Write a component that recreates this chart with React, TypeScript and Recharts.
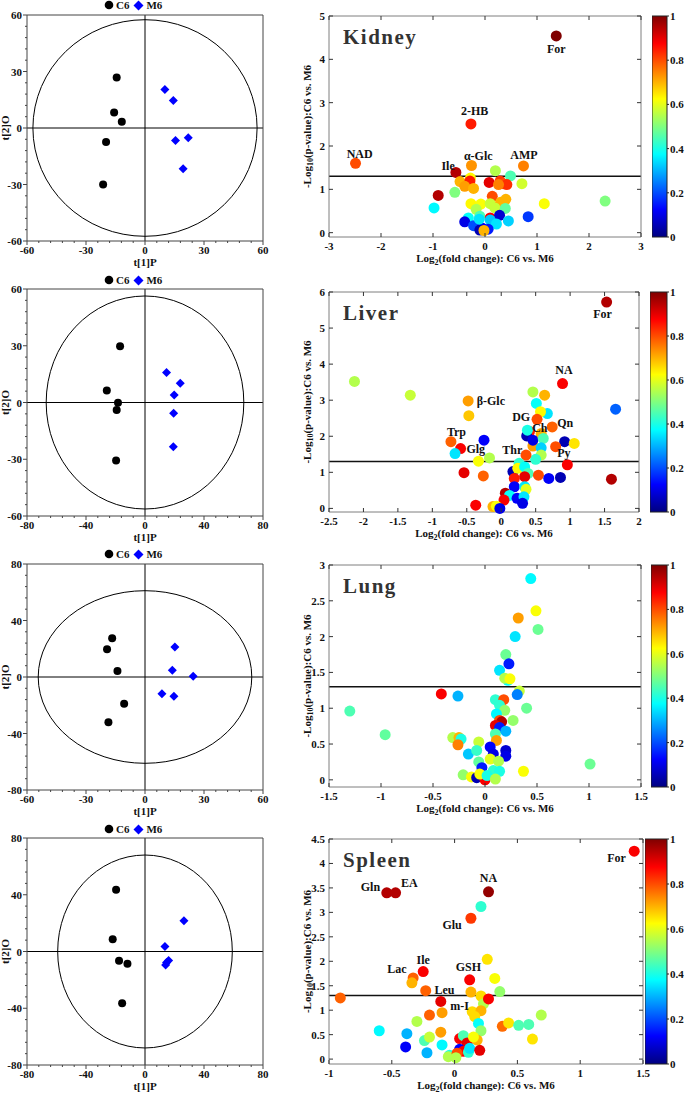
import React from 'react';
import { ScatterChart, Scatter, XAxis, YAxis, ReferenceLine, ReferenceArea } from 'recharts';

const FONT = '"Liberation Serif", "Times New Roman", serif';

// ---------- score plots: [t[1]P, t[2]O] ----------
const kidneyC6 = [[-14.4, 26.8], [-15.7, 8.2], [-11.8, 3.3], [-19.8, -7.4], [-21.3, -30]];
const kidneyM6 = [[10.1, 20.5], [14.4, 14.6], [15.5, -6.6], [22, -5.2], [19.4, -21.7]];
const liverC6 = [[-16.9, 29.8], [-25.9, 6.3], [-18.3, -0.1], [-19.2, -4], [-19.6, -30.7]];
const liverM6 = [[14.6, 15.8], [23.9, 10.2], [19.8, 4], [19.4, -5.7], [19.2, -23.4]];
const lungC6 = [[-16.7, 27.4], [-19.3, 19.6], [-14, 4.2], [-10.6, -18.9], [-18.6, -32.1]];
const lungM6 = [[15.2, 21.2], [13.9, 4.7], [24.5, 0.5], [8.6, -11.8], [14.7, -13.7]];
const spleenC6 = [[-19.6, 43.5], [-21.9, 8.7], [-17.6, -6.6], [-11.9, -8.7], [-15.5, -36.5]];
const spleenM6 = [[26.4, 21.6], [13.5, 3.5], [16, -6.4], [14.6, -7.8], [14, -9.6]];

// Hotelling T2 ellipse half-axes [x, y]
const kidneyEllipse = [57, 57.5];
const liverEllipse = [67, 56.3];
const lungEllipse = [54.3, 61.1];
const spleenEllipse = [59.2, 68];

const ticks60 = [-60, -30, 0, 30, 60];
const ticks80 = [-80, -40, 0, 40, 80];

// ---------- volcano plots: [log2 FC, -log10 p, colour value] ----------
const kidneyPts = [
  [1.37, 4.54, 1.0], [-0.27, 2.51, 0.85], [-2.49, 1.6, 0.8], [-0.56, 1.39, 0.95], [-0.26, 1.55, 0.73],
  [0.74, 1.54, 0.75], [0.2, 1.43, 0.55], [0.49, 1.31, 0.45], [-0.28, 1.26, 0.63], [-0.48, 1.18, 0.7],
  [-0.29, 1.19, 0.85], [0.08, 1.16, 0.9], [0.29, 1.19, 0.82], [0.35, 1.13, 0.8], [0.42, 1.11, 0.83],
  [0.26, 1.11, 0.75], [0.71, 1.13, 0.58], [-0.39, 1.07, 0.72], [-0.22, 1.02, 0.7], [-0.58, 0.93, 0.5],
  [-0.9, 0.86, 0.95], [0.14, 0.84, 0.8], [-0.98, 0.57, 0.37], [-0.27, 0.67, 0.63], [-0.08, 0.66, 0.62],
  [0.1, 0.67, 0.57], [0.3, 0.7, 0.7], [0.4, 0.77, 0.7], [1.14, 0.67, 0.62], [2.31, 0.73, 0.5],
  [-0.17, 0.54, 0.55], [0.19, 0.57, 0.57], [0.39, 0.56, 0.47], [-0.1, 0.38, 0.45], [-0.32, 0.34, 0.38],
  [0.1, 0.34, 0.88], [0.28, 0.4, 0.08], [-0.39, 0.25, 0.1], [-0.22, 0.16, 0.2], [-0.06, 0.11, 0.12],
  [-0.1, 0.06, 0.05], [0.1, 0.29, 0.32], [0.22, 0.2, 0.35], [0.45, 0.27, 0.33], [0.83, 0.37, 0.18],
  [-0.11, 0.31, 0.35], [0.06, 0.08, 0.15], [-0.02, 0.05, 0.7],
];
const liverPts = [
  [1.53, 5.72, 0.95], [0.89, 3.46, 0.88], [-2.13, 3.52, 0.55], [-1.32, 3.14, 0.57], [-0.48, 2.98, 0.72],
  [-0.47, 2.57, 0.68], [1.66, 2.75, 0.22], [0.46, 3.23, 0.55], [0.63, 3.14, 0.7], [0.51, 2.91, 0.38],
  [0.67, 2.63, 0.35], [0.57, 2.68, 0.63], [0.52, 2.47, 0.8], [0.74, 2.26, 0.78], [0.41, 2.13, 0.85],
  [0.37, 2.01, 0.05], [0.38, 2.17, 0.4], [0.58, 2.08, 0.7], [0.46, 1.73, 0.72], [0.46, 1.89, 0.1],
  [0.61, 1.94, 0.45], [0.58, 1.68, 0.33], [0.92, 1.85, 0.05], [1.06, 1.8, 0.65], [0.79, 1.71, 0.8],
  [0.58, 1.48, 0.55], [0.5, 1.36, 0.42], [0.96, 1.21, 0.88], [-0.73, 1.85, 0.78], [-0.59, 1.66, 0.88],
  [-0.67, 1.52, 0.35], [-0.25, 1.89, 0.12], [-0.33, 1.31, 0.62], [-0.17, 1.4, 0.55], [0.36, 1.48, 0.8],
  [-0.54, 0.99, 0.9], [-0.26, 0.9, 0.78], [0.17, 1.02, 0.05], [0.26, 1.25, 0.42], [0.24, 1.11, 0.63],
  [0.34, 1.15, 0.38], [0.39, 0.97, 0.45], [0.34, 0.88, 0.9], [0.54, 0.92, 0.8], [0.69, 0.83, 0.12],
  [0.86, 0.86, 0.05], [1.6, 0.81, 0.95], [0.19, 0.83, 0.85], [0.19, 0.6, 0.12], [0.34, 0.6, 0.35],
  [0.36, 0.53, 0.6], [0.06, 0.42, 0.95], [0.12, 0.36, 0.38], [0.23, 0.28, 0.12], [0.33, 0.32, 0.35],
  [0.31, 0.14, 0.1], [0.04, 0.23, 0.88], [-0.37, 0.09, 0.88], [-0.12, 0.05, 0.7], [-0.07, 0.06, 0.62],
  [-0.02, 0.0, 0.1],
];
const lungPts = [
  [0.44, 2.81, 0.37], [0.49, 2.36, 0.62], [0.32, 2.26, 0.72], [0.51, 2.1, 0.48], [0.29, 2.0, 0.35],
  [0.2, 1.75, 0.48], [0.23, 1.62, 0.15], [0.14, 1.53, 0.35], [0.22, 1.39, 0.38], [0.19, 1.42, 0.55],
  [0.24, 1.41, 0.62], [-0.42, 1.2, 0.88], [-0.26, 1.17, 0.3], [0.33, 1.24, 0.57], [0.31, 1.19, 0.25],
  [0.1, 1.12, 0.42], [0.18, 1.12, 0.8], [0.14, 1.04, 0.42], [0.4, 1.0, 0.48], [0.19, 0.97, 0.52],
  [0.11, 0.92, 0.37], [0.27, 0.83, 0.52], [0.14, 0.83, 0.8], [0.16, 0.81, 0.95], [0.1, 0.76, 0.9],
  [0.14, 0.73, 0.15], [0.2, 0.68, 0.3], [0.1, 0.64, 0.45], [0.11, 0.55, 0.72], [-1.3, 0.96, 0.45],
  [-0.96, 0.63, 0.47], [-0.31, 0.59, 0.55], [-0.25, 0.59, 0.7], [-0.23, 0.57, 0.4], [-0.26, 0.49, 0.75],
  [-0.06, 0.53, 0.57], [-0.16, 0.36, 0.32], [-0.08, 0.41, 0.43], [0.05, 0.46, 0.12], [0.08, 0.36, 0.1],
  [0.2, 0.41, 0.08], [0.2, 0.33, 0.1], [0.05, 0.29, 0.6], [0.13, 0.26, 0.55], [-0.06, 0.25, 0.47],
  [-0.03, 0.17, 0.15], [1.01, 0.22, 0.48], [0.37, 0.12, 0.62], [-0.21, 0.07, 0.52], [-0.13, 0.04, 0.62],
  [-0.08, 0.03, 0.05], [0.0, 0.0, 0.88], [-0.05, 0.08, 0.62], [0.08, 0.13, 0.42], [0.14, 0.12, 0.4],
  [0.02, 0.06, 0.4], [0.1, 0.01, 0.55],
];
const spleenPts = [
  [1.43, 4.25, 0.88], [-0.54, 3.4, 0.95], [-0.47, 3.4, 0.95], [0.27, 3.42, 0.98], [0.21, 3.12, 0.42],
  [0.13, 2.88, 0.82], [0.26, 2.04, 0.65], [-0.25, 1.79, 0.88], [-0.33, 1.66, 0.78], [-0.34, 1.56, 0.7],
  [0.12, 1.62, 0.88], [0.32, 1.65, 0.62], [-0.23, 1.4, 0.78], [0.13, 1.37, 0.7], [0.36, 1.38, 0.52],
  [0.21, 1.29, 0.66], [-0.91, 1.25, 0.78], [-0.11, 1.18, 0.9], [0.23, 1.13, 0.55], [0.27, 1.23, 0.88],
  [0.14, 0.97, 0.66], [0.21, 0.99, 0.7], [0.16, 0.87, 0.66], [-0.1, 0.95, 0.72], [-0.2, 0.9, 0.78],
  [-0.3, 0.77, 0.55], [0.19, 0.73, 0.38], [0.21, 0.58, 0.52], [0.38, 0.67, 0.77], [0.43, 0.74, 0.65],
  [0.51, 0.69, 0.45], [0.59, 0.71, 0.45], [0.69, 0.9, 0.55], [0.62, 0.41, 0.65], [-0.6, 0.58, 0.37],
  [-0.38, 0.52, 0.3], [-0.39, 0.25, 0.12], [-0.22, 0.13, 0.3], [-0.24, 0.38, 0.45], [-0.2, 0.45, 0.57],
  [-0.11, 0.55, 0.72], [-0.1, 0.29, 0.37], [-0.04, 0.08, 0.4], [-0.05, 0.05, 0.55], [0.04, 0.42, 0.88],
  [0.07, 0.48, 0.45], [0.1, 0.33, 0.9], [0.18, 0.39, 0.7], [0.15, 0.45, 0.62], [0.04, 0.2, 0.12],
  [0.07, 0.16, 0.88], [0.11, 0.14, 0.42], [0.12, 0.22, 0.35], [0.2, 0.18, 0.9], [0.02, 0.12, 0.8],
  [0.01, 0.03, 0.55],
];

// metabolite labels: [text, x, y] (text centre, data units)
const kidneyLabels = [['For', 1.37, 4.25], ['2-HB', -0.2, 2.81], ['NAD', -2.41, 1.82], ['Ile', -0.71, 1.55], ['α-Glc', -0.13, 1.78], ['AMP', 0.75, 1.8]];
const liverLabels = [['For', 1.47, 5.38], ['NA', 0.91, 3.83], ['β-Glc', -0.15, 2.98], ['DG', 0.29, 2.54], ['Ch', 0.56, 2.24], ['Qn', 0.93, 2.38], ['Trp', -0.65, 2.12], ['Glg', -0.37, 1.66], ['Thr', 0.16, 1.62], ['Py', 0.91, 1.54]];
const lungLabels: any[] = [];
const spleenLabels = [['For', 1.29, 4.11], ['Gln', -0.67, 3.51], ['EA', -0.36, 3.61], ['NA', 0.27, 3.7], ['Glu', -0.02, 2.74], ['Lac', -0.46, 1.84], ['Ile', -0.25, 2.02], ['GSH', 0.11, 1.88], ['Leu', -0.08, 1.42], ['m-I', 0.04, 1.08]];

const colorTicks = [0, 0.2, 0.4, 0.6, 0.8, 1];
const P_THRESHOLD = 1.301; // -log10(0.05)

const steps = (a: number, b: number, s: number) => {
  const out: number[] = [];
  for (let v = a; v <= b + 1e-9; v += s) out.push(Math.round(v * 1000) / 1000);
  return out;
};

const jet = (v: number) => {
  const f = (t: number) => Math.round(255 * Math.max(0, Math.min(1, 1.5 - Math.abs(4 * v - t))));
  return `rgb(${f(3)},${f(2)},${f(1)})`;
};

// invisible anchor points so that the frame axes get a domain
const corners = (xd: number[], yd: number[]) => [{ x: xd[0], y: yd[0] }, { x: xd[1], y: yd[1] }];
const noShape = () => <g />;

type Side = 'bottom' | 'left' | 'top' | 'right';
function makeTick(side: Side, major: number[], len: number, minorLen: number, inward: boolean, label: boolean, color: string, gap = 4) {
  return (props: any) => {
    const { x, y, payload } = props;
    const v = payload.value;
    const isMajor = major.some((m) => Math.abs(m - v) < 1e-6);
    const L = isMajor ? len : minorLen;
    const s = inward ? -1 : 1;
    let x2 = x, y2 = y;
    if (side === 'bottom') y2 = y + s * L;
    if (side === 'top') y2 = y - s * L;
    if (side === 'left') x2 = x - s * L;
    if (side === 'right') x2 = x + s * L;
    let txt = null;
    if (label && isMajor) {
      const common = { fontFamily: FONT, fontWeight: 700, fontSize: 11, fill: '#111' };
      if (side === 'bottom') txt = <text x={x} y={y + 13} textAnchor="middle" {...common}>{String(v)}</text>;
      if (side === 'left') txt = <text x={x - gap} y={y + 4} textAnchor="end" {...common}>{String(v)}</text>;
      if (side === 'right') txt = <text x={x + gap} y={y + 4} textAnchor="start" {...common}>{String(v)}</text>;
    }
    return (
      <g>
        {L > 0 && <line x1={x} y1={y} x2={x2} y2={y2} stroke={color} strokeWidth={1} />}
        {txt}
      </g>
    );
  };
}

const xLabel = (content: React.ReactNode, dy: number) => (props: any) => {
  const vb = props.viewBox || {};
  return (
    <text x={vb.x + vb.width / 2} y={vb.y + dy} textAnchor="middle" fontFamily={FONT} fontWeight={700} fontSize={11} fill="#111">{content}</text>
  );
};
const yLabel = (content: React.ReactNode, dx: number) => (props: any) => {
  const vb = props.viewBox || {};
  const cx = vb.x + vb.width - dx;
  const cy = vb.y + vb.height / 2;
  return (
    <text x={cx} y={cy} transform={`rotate(-90 ${cx} ${cy})`} textAnchor="middle" dominantBaseline="central" fontFamily={FONT} fontWeight={700} fontSize={11} fill="#111">{content}</text>
  );
};

// ---------- score plot ----------
const SCORE_L = 27;
const SCORE_R = 263;

function ScorePlot({ c6, m6, ellipse, xTicks, yTicks, top, bottom, legendY }: any) {
  const padL = 27, padT = 10, padR = 8, padB = 32;
  const W = SCORE_R - SCORE_L, H = bottom - top;
  const xDom = [xTicks[0], xTicks[xTicks.length - 1]];
  const yDom = [yTicks[0], yTicks[yTicks.length - 1]];
  const xMinor = steps(xDom[0], xDom[1], (xTicks[1] - xTicks[0]) / 5);
  const yMinor = steps(yDom[0], yDom[1], (yTicks[1] - yTicks[0]) / 5);
  const c6d = c6.map(([x, y]: number[]) => ({ x, y }));
  const m6d = m6.map(([x, y]: number[]) => ({ x, y }));
  const frame = '#444';
  return (
    <>
      <div style={{ position: 'absolute', left: 104, top: legendY - 7, display: 'flex', alignItems: 'center', gap: 2, fontFamily: FONT, fontWeight: 700, fontSize: 11, lineHeight: '14px', color: '#111' }}>
        <svg width={10} height={10}><circle cx={5} cy={5} r={4.3} fill="#000" /></svg>
        <span>C6</span>
        <svg width={11} height={11} style={{ marginLeft: 2 }}><polygon points="5.5,0.5 10.5,5.5 5.5,10.5 0.5,5.5" fill="#0000ff" /></svg>
        <span>M6</span>
      </div>
      <div style={{ position: 'absolute', left: SCORE_L - padL, top: top - padT }}>
        <ScatterChart width={W + padL + padR} height={H + padT + padB} margin={{ top: padT - 1, right: padR - 1, bottom: 0, left: 0 }}>
          <XAxis type="number" dataKey="x" domain={xDom} ticks={xMinor} interval={0} height={padB}
            tickSize={0} tickMargin={0} tickLine={false} axisLine={{ stroke: frame }}
            tick={makeTick('bottom', xTicks, 4, 2, false, true, frame)} label={{ content: xLabel('t[1]P', 25) }} />
          <YAxis type="number" dataKey="y" domain={yDom} ticks={yMinor} interval={0} width={padL}
            tickSize={0} tickMargin={0} tickLine={false} axisLine={{ stroke: frame }}
            tick={makeTick('left', yTicks, 4, 2, false, true, frame, 5)} label={{ content: yLabel('t[2]O', 22) }} />
          <XAxis xAxisId="t" orientation="top" type="number" dataKey="x" domain={xDom} height={1} tick={false} tickLine={false} axisLine={{ stroke: frame }} />
          <YAxis yAxisId="r" orientation="right" type="number" dataKey="y" domain={yDom} width={1} tick={false} tickLine={false} axisLine={{ stroke: frame }} />
          <ReferenceLine x={0} stroke="#000" strokeWidth={1} />
          <ReferenceLine y={0} stroke="#000" strokeWidth={1} />
          <ReferenceArea x1={-ellipse[0]} x2={ellipse[0]} y1={-ellipse[1]} y2={ellipse[1]} ifOverflow="visible"
            shape={(p: any) => <ellipse cx={p.x + p.width / 2} cy={p.y + p.height / 2} rx={Math.abs(p.width) / 2} ry={Math.abs(p.height) / 2} fill="none" stroke="#000" strokeWidth={1} />} />
          <Scatter data={c6d} isAnimationActive={false} shape={(p: any) => <circle cx={p.cx} cy={p.cy} r={4} fill="#000" />} />
          <Scatter data={m6d} isAnimationActive={false} shape={(p: any) => <polygon points={`${p.cx},${p.cy - 4.5} ${p.cx + 4.5},${p.cy} ${p.cx},${p.cy + 4.5} ${p.cx - 4.5},${p.cy}`} fill="#0000ff" />} />
          <Scatter xAxisId="t" yAxisId="r" data={corners(xDom, yDom)} isAnimationActive={false} shape={noShape} />
        </ScatterChart>
      </div>
    </>
  );
}

// ---------- volcano plot ----------
const yLabelText = (
  <>
    <tspan>-Log</tspan>
    <tspan fontSize={8} dy={3}>10</tspan>
    <tspan dy={-3}>(p-value):C6 vs. M6</tspan>
  </>
);
const xLabelText = (
  <>
    <tspan>Log</tspan>
    <tspan fontSize={8} dy={3}>2</tspan>
    <tspan dy={-3}>(fold change): C6 vs. M6</tspan>
  </>
);

function Volcano({ title, points, labels, xTicks, yTicks, yMax, plot, cb }: any) {
  const padL = 40, padT = 10, padR = 10, padB = 32;
  const W = plot.r - plot.l, H = plot.b - plot.t;
  const xDom = [xTicks[0], xTicks[xTicks.length - 1]];
  const yDom = [-0.1, yMax];
  const pts = points.map(([x, y, c]: number[]) => ({ x, y, c }));
  const lbl = labels.map(([t, x, y]: any[]) => ({ t, x, y }));
  const frame = '#7f7f7f';
  const tickCol = '#333';
  return (
    <>
      <div style={{ position: 'absolute', left: plot.l - padL, top: plot.t - padT }}>
        <ScatterChart width={W + padL + padR} height={H + padT + padB} margin={{ top: padT - 1, right: padR - 1, bottom: 0, left: 0 }}>
          <XAxis type="number" dataKey="x" domain={xDom} ticks={xTicks} interval={0} height={padB}
            tickSize={0} tickMargin={0} tickLine={false} axisLine={{ stroke: frame }}
            tick={makeTick('bottom', xTicks, 4, 0, true, true, tickCol)} label={{ content: xLabel(xLabelText, 25) }} />
          <YAxis type="number" dataKey="y" domain={yDom} ticks={yTicks} interval={0} width={padL}
            tickSize={0} tickMargin={0} tickLine={false} axisLine={{ stroke: frame }}
            tick={makeTick('left', yTicks, 4, 0, true, true, tickCol, 4)} label={{ content: yLabel(yLabelText, 22) }} />
          <XAxis xAxisId="t" orientation="top" type="number" dataKey="x" domain={xDom} ticks={xTicks} interval={0} height={1}
            tickSize={0} tickMargin={0} tickLine={false} axisLine={{ stroke: frame }}
            tick={makeTick('top', xTicks, 4, 0, true, false, tickCol)} />
          <YAxis yAxisId="r" orientation="right" type="number" dataKey="y" domain={yDom} ticks={yTicks} interval={0} width={1}
            tickSize={0} tickMargin={0} tickLine={false} axisLine={{ stroke: frame }}
            tick={makeTick('right', yTicks, 4, 0, true, false, tickCol)} />
          <ReferenceLine y={P_THRESHOLD} stroke="#111" strokeWidth={1.5} />
          <Scatter data={pts} isAnimationActive={false} shape={(p: any) => <circle cx={p.cx} cy={p.cy} r={5.5} fill={jet(p.payload.c)} />} />
          <Scatter data={lbl} isAnimationActive={false} shape={(p: any) => (
            <text x={p.cx} y={p.cy} textAnchor="middle" dominantBaseline="central" fontFamily={FONT} fontWeight={700} fontSize={12} fill="#111">{p.payload.t}</text>
          )} />
          <Scatter xAxisId="t" yAxisId="r" data={corners(xDom, yDom)} isAnimationActive={false} shape={noShape} />
        </ScatterChart>
      </div>
      <svg style={{ position: 'absolute', left: plot.l + 14, top: plot.t + 8 }} width={120} height={30}>
        <text x={0} y={20} fontFamily={FONT} fontWeight={700} fontSize={21} letterSpacing={1.5} fill="#333">{title}</text>
      </svg>
      <div style={{ position: 'absolute', left: cb.l, top: cb.t - 8 }}>
        <ScatterChart width={cb.r - cb.l + 22} height={cb.b - cb.t + 16} margin={{ top: 8, right: 21, bottom: 8, left: 0 }}>
          <XAxis type="number" dataKey="x" domain={[0, 1]} hide />
          <YAxis type="number" dataKey="y" orientation="right" domain={[0, 1]} ticks={colorTicks} interval={0} width={1}
            tickSize={0} tickMargin={0} tickLine={false} axisLine={false}
            tick={makeTick('right', colorTicks, 2, 0, false, true, '#222', 3)} />
          <ReferenceArea x1={0} x2={1} y1={0} y2={1} fill="url(#jetGrad)" fillOpacity={1} stroke="#222" strokeWidth={1} ifOverflow="visible" />
          <Scatter data={corners([0, 1], [0, 1])} isAnimationActive={false} shape={noShape} />
        </ScatterChart>
      </div>
    </>
  );
}

const scoreRows = [
  { c6: kidneyC6, m6: kidneyM6, ellipse: kidneyEllipse, xTicks: ticks60, yTicks: ticks60, top: 15, bottom: 241, legendY: 5 },
  { c6: liverC6, m6: liverM6, ellipse: liverEllipse, xTicks: ticks80, yTicks: ticks60, top: 289, bottom: 516, legendY: 280 },
  { c6: lungC6, m6: lungM6, ellipse: lungEllipse, xTicks: ticks60, yTicks: ticks80, top: 564, bottom: 790, legendY: 554 },
  { c6: spleenC6, m6: spleenM6, ellipse: spleenEllipse, xTicks: ticks80, yTicks: ticks80, top: 838, bottom: 1065, legendY: 829 },
];

const volcanoRows = [
  { title: 'Kidney', points: kidneyPts, labels: kidneyLabels, xTicks: steps(-3, 3, 1), yTicks: steps(0, 5, 1), yMax: 5,
    plot: { l: 329, r: 641, t: 16, b: 237 }, cb: { l: 652, r: 667, t: 16, b: 237 } },
  { title: 'Liver', points: liverPts, labels: liverLabels, xTicks: steps(-2.5, 2, 0.5), yTicks: steps(0, 6, 1), yMax: 6,
    plot: { l: 329, r: 639, t: 292, b: 512 }, cb: { l: 650, r: 667, t: 292, b: 512 } },
  { title: 'Lung', points: lungPts, labels: lungLabels, xTicks: steps(-1.5, 1.5, 0.5), yTicks: steps(0, 3, 0.5), yMax: 3,
    plot: { l: 329, r: 641, t: 565, b: 787 }, cb: { l: 651, r: 667, t: 565, b: 787 } },
  { title: 'Spleen', points: spleenPts, labels: spleenLabels, xTicks: steps(-1, 1.5, 0.5), yTicks: steps(0, 4.5, 0.5), yMax: 4.5,
    plot: { l: 329, r: 643, t: 839, b: 1064 }, cb: { l: 645, r: 667, t: 839, b: 1064 } },
];

const jetStops = [
  [0, 'rgb(0,0,128)'], [0.125, 'rgb(0,0,255)'], [0.375, 'rgb(0,255,255)'],
  [0.625, 'rgb(255,255,0)'], [0.875, 'rgb(255,0,0)'], [1, 'rgb(128,0,0)'],
];

export default function App() {
  return (
    <div style={{ position: 'absolute', left: 0, top: 0, width: 685, height: 1095, background: '#fff', overflow: 'hidden' }}>
      <svg width={0} height={0} style={{ position: 'absolute' }}>
        <defs>
          <linearGradient id="jetGrad" x1="0" y1="1" x2="0" y2="0">
            {jetStops.map(([o, c]) => <stop key={String(o)} offset={o as number} stopColor={c as string} />)}
          </linearGradient>
        </defs>
      </svg>
      {scoreRows.map((r, i) => <ScorePlot key={'s' + i} {...r} />)}
      {volcanoRows.map((r, i) => <Volcano key={'v' + i} {...r} />)}
    </div>
  );
}
